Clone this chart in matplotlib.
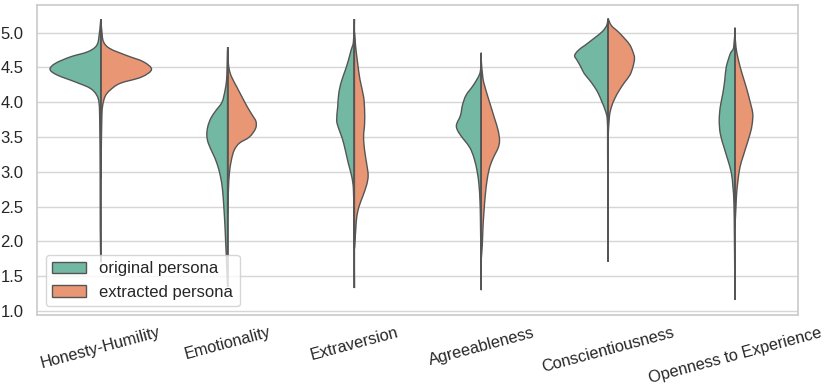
import numpy as np
import matplotlib
matplotlib.use("Agg")
import matplotlib.pyplot as plt
from matplotlib.path import Path
from matplotlib.patches import PathPatch, Patch
import seaborn as sns

traits = ["Honesty-Humility", "Emotionality", "Extraversion",
          "Agreeableness", "Conscientiousness", "Openness to Experience"]
series_names = ["original persona", "extracted persona"]

# density profiles: score levels and relative half-widths (0..1)
hh_orig_y = [5.19, 4.89, 4.79, 4.72, 4.65, 4.555, 4.47, 4.39, 4.29, 4.20, 4.10, 3.98, 3.70, 3.00, 2.20, 1.70]
hh_orig_d = [0.0, 0.045, 0.11, 0.27, 0.60, 0.90, 1.0, 0.86, 0.50, 0.21, 0.08, 0.033, 0.02, 0.012, 0.01, 0.0]
hh_extr_y = [5.19, 5.03, 4.87, 4.77, 4.67, 4.58, 4.47, 4.36, 4.27, 4.17, 4.08, 3.93, 3.74, 3.30, 2.90]
hh_extr_d = [0.0, 0.02, 0.053, 0.18, 0.51, 0.84, 1.0, 0.80, 0.38, 0.18, 0.084, 0.033, 0.02, 0.01, 0.0]

em_orig_y = [4.75, 4.45, 4.32, 4.17, 4.00, 3.88, 3.77, 3.65, 3.53, 3.41, 3.26, 3.12, 2.93, 2.74, 2.50, 2.26, 2.02, 1.78, 1.35]
em_orig_d = [0.0, 0.01, 0.02, 0.05, 0.11, 0.23, 0.33, 0.39, 0.41, 0.38, 0.29, 0.21, 0.14, 0.10, 0.075, 0.055, 0.04, 0.025, 0.0]
em_extr_y = [4.79, 4.60, 4.46, 4.36, 4.22, 4.08, 3.93, 3.81, 3.72, 3.62, 3.50, 3.41, 3.31, 3.17, 2.98, 2.74, 2.40]
em_extr_d = [0.0, 0.01, 0.035, 0.08, 0.18, 0.28, 0.39, 0.49, 0.56, 0.55, 0.43, 0.23, 0.13, 0.075, 0.035, 0.016, 0.0]

ex_orig_y = [5.19, 4.87, 4.75, 4.60, 4.46, 4.29, 4.12, 3.93, 3.74, 3.62, 3.48, 3.31, 3.12, 2.93, 2.74, 2.30, 1.33]
ex_orig_d = [0.0, 0.02, 0.065, 0.12, 0.18, 0.26, 0.31, 0.33, 0.35, 0.31, 0.24, 0.18, 0.12, 0.053, 0.02, 0.01, 0.0]
ex_extr_y = [5.00, 4.79, 4.55, 4.32, 4.08, 3.89, 3.69, 3.50, 3.31, 3.12, 2.95, 2.81, 2.64, 2.50, 2.35, 2.16, 1.90]
ex_extr_d = [0.0, 0.025, 0.065, 0.11, 0.18, 0.20, 0.20, 0.18, 0.20, 0.24, 0.27, 0.24, 0.16, 0.09, 0.045, 0.025, 0.0]

ag_orig_y = [4.71, 4.50, 4.39, 4.24, 4.10, 3.96, 3.81, 3.67, 3.57, 3.45, 3.34, 3.19, 3.00, 2.81, 2.57, 2.28, 1.80, 1.30]
ag_orig_d = [0.0, 0.01, 0.04, 0.16, 0.30, 0.37, 0.41, 0.49, 0.45, 0.33, 0.22, 0.14, 0.08, 0.045, 0.025, 0.016, 0.008, 0.0]
ag_extr_y = [4.60, 4.34, 4.15, 3.96, 3.77, 3.60, 3.45, 3.34, 3.19, 3.05, 2.86, 2.67, 2.43, 2.19, 1.95, 1.75]
ag_extr_d = [0.0, 0.033, 0.10, 0.18, 0.26, 0.33, 0.36, 0.33, 0.23, 0.16, 0.11, 0.08, 0.053, 0.033, 0.02, 0.0]

co_orig_y = [5.20, 5.10, 5.01, 4.91, 4.82, 4.75, 4.67, 4.60, 4.51, 4.41, 4.32, 4.22, 4.12, 4.00, 3.89, 3.74, 3.30, 1.71]
co_orig_d = [0.0, 0.03, 0.12, 0.29, 0.45, 0.58, 0.66, 0.61, 0.54, 0.47, 0.37, 0.27, 0.19, 0.12, 0.06, 0.016, 0.01, 0.0]
co_extr_y = [5.20, 5.10, 5.01, 4.91, 4.82, 4.72, 4.63, 4.51, 4.39, 4.29, 4.17, 4.05, 3.93, 3.79, 3.50]
co_extr_d = [0.0, 0.065, 0.20, 0.33, 0.43, 0.49, 0.52, 0.49, 0.43, 0.33, 0.22, 0.13, 0.065, 0.025, 0.0]

op_orig_y = [5.07, 4.79, 4.70, 4.51, 4.32, 4.12, 3.93, 3.74, 3.55, 3.36, 3.17, 2.98, 2.78, 2.55, 2.00, 1.16]
op_orig_d = [0.0, 0.025, 0.09, 0.17, 0.20, 0.24, 0.29, 0.31, 0.29, 0.22, 0.14, 0.07, 0.04, 0.02, 0.01, 0.0]
op_extr_y = [5.00, 4.79, 4.60, 4.41, 4.22, 4.03, 3.84, 3.69, 3.55, 3.36, 3.22, 3.07, 2.88, 2.69, 2.50, 2.20]
op_extr_d = [0.0, 0.02, 0.07, 0.14, 0.22, 0.29, 0.35, 0.34, 0.30, 0.22, 0.16, 0.10, 0.06, 0.033, 0.02, 0.0]

original = [(hh_orig_y, hh_orig_d), (em_orig_y, em_orig_d), (ex_orig_y, ex_orig_d),
            (ag_orig_y, ag_orig_d), (co_orig_y, co_orig_d), (op_orig_y, op_orig_d)]
extracted = [(hh_extr_y, hh_extr_d), (em_extr_y, em_extr_d), (ex_extr_y, ex_extr_d),
             (ag_extr_y, ag_extr_d), (co_extr_y, co_extr_d), (op_extr_y, op_extr_d)]

yticks = [1.0, 1.5, 2.0, 2.5, 3.0, 3.5, 4.0, 4.5, 5.0]

sns.set_theme(style="whitegrid")
plt.rcParams["font.family"] = ["Liberation Sans", "DejaVu Sans"]

colors = ["#72b8a2", "#e99675"]
edge = "#555555"
half_width = 0.4
fs = 12

fig = plt.figure(figsize=(8.30, 3.88), dpi=100)
ax = fig.add_axes([0.045, 0.1894, 0.9169, 0.7985])


def side_path(center, ys, ds, sign):
    ys = np.asarray(ys, float)
    xs = center + sign * half_width * np.asarray(ds, float)
    pts = np.column_stack([xs, ys])
    n = len(pts)
    verts = [pts[0]]
    codes = [Path.MOVETO]
    for i in range(n - 1):
        p0 = pts[max(i - 1, 0)]
        p1 = pts[i]
        p2 = pts[i + 1]
        p3 = pts[min(i + 2, n - 1)]
        c1 = p1 + (p2 - p0) / 6.0
        c2 = p2 - (p3 - p1) / 6.0
        c1[0] = center + sign * max(sign * (c1[0] - center), 0)
        c2[0] = center + sign * max(sign * (c2[0] - center), 0)
        verts += [c1, c2, p2]
        codes += [Path.CURVE4] * 3
    verts.append(np.array([center, ys[-1]]))
    codes.append(Path.LINETO)
    verts.append(np.array([center, ys[0]]))
    codes.append(Path.LINETO)
    verts.append(pts[0])
    codes.append(Path.CLOSEPOLY)
    return Path(np.array(verts), codes)


for i in range(len(traits)):
    for (ys, ds), sign, col in ((original[i], -1, colors[0]), (extracted[i], 1, colors[1])):
        p = side_path(i, ys, ds, sign)
        ax.add_patch(PathPatch(p, facecolor=col, edgecolor=edge, lw=1.0, zorder=2))
    top = max(original[i][0][0], extracted[i][0][0])
    bot = min(original[i][0][-1], extracted[i][0][-1])
    ax.plot([i, i], [bot, top], color=edge, lw=1.2, zorder=3, solid_capstyle="butt")

ax.set_xlim(-0.5, 5.5)
ax.set_ylim(0.95, 5.40)
ax.set_yticks(yticks)
ax.set_yticklabels([f"{v:.1f}" for v in yticks], fontsize=fs)
ax.set_xticks(range(len(traits)))
ax.set_xticklabels(traits, rotation=15, fontsize=11.7)
ax.tick_params(axis="y", pad=4)
ax.tick_params(axis="x", pad=1.5)
ax.grid(axis="x", visible=False)
ax.grid(axis="y", color="#d6d6d6", lw=1.0)
for s in ax.spines.values():
    s.set_color("#cccccc")

handles = [Patch(facecolor=colors[0], edgecolor=edge, lw=1.0),
           Patch(facecolor=colors[1], edgecolor=edge, lw=1.0)]
leg = ax.legend(handles, series_names, loc="lower left", fontsize=fs, frameon=True)
leg.set_zorder(5)

fig.savefig("out.png", dpi=100)
